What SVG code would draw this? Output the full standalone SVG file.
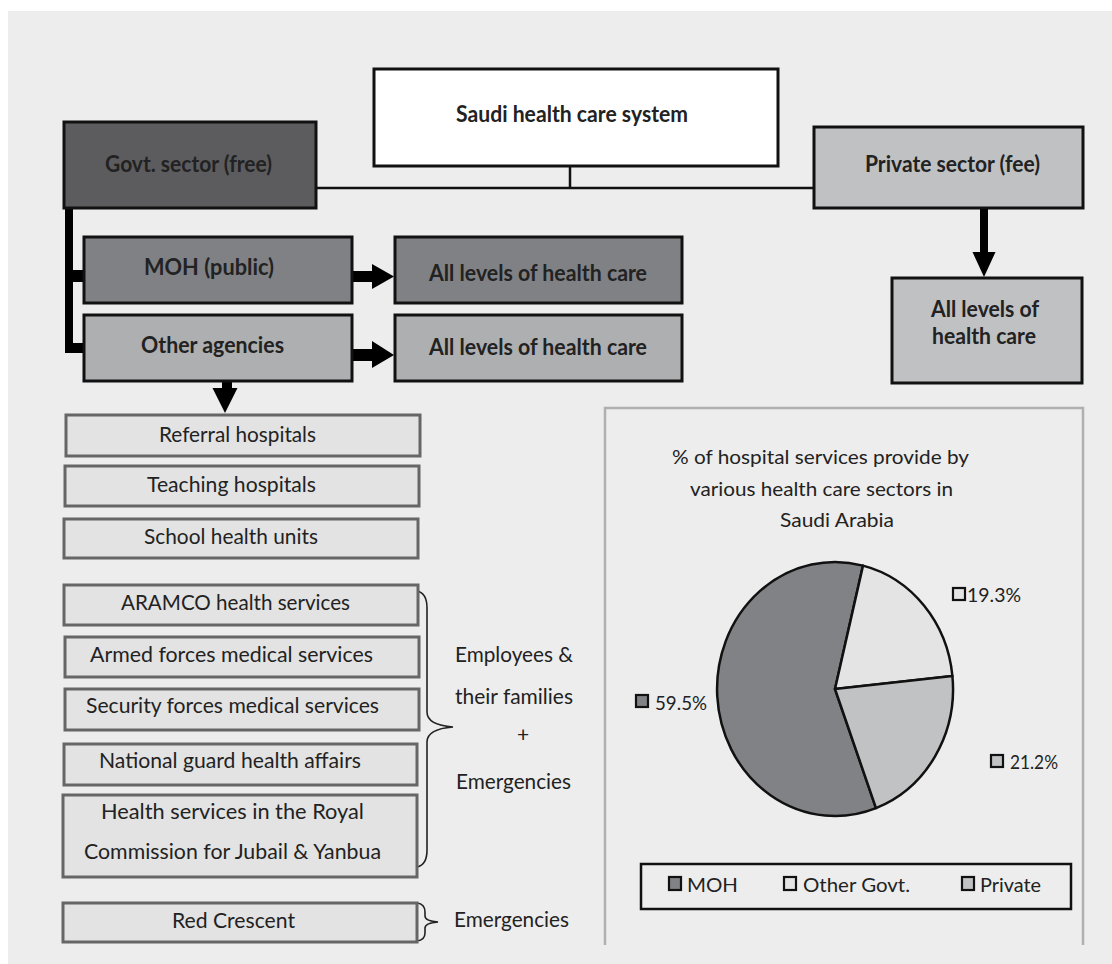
<svg xmlns="http://www.w3.org/2000/svg" width="1112" height="964" viewBox="0 0 1112 964">
  <style>
    .hdr { font-family: Lato, "Open Sans", "Liberation Sans", sans-serif; font-weight: bold; font-size: 22px; fill: #222; }
    .txt { font-family: Lato, "Open Sans", "Liberation Sans", sans-serif; font-size: 21px; fill: #222; }
    .ttl { font-family: Lato, "Open Sans", "Liberation Sans", sans-serif; font-size: 20px; fill: #222; }
    .box { stroke: #111; stroke-width: 3; }
    .item { fill: #e3e3e3; stroke: #666; stroke-width: 3; }
    .line { fill: none; stroke: #111; stroke-width: 2.5; }
    .brace { fill: none; stroke: #222; stroke-width: 1.6; }
    .solid { fill: #000; }
    .slice { stroke: #111; stroke-width: 2.5; stroke-linejoin: round; }
    .key { stroke: #111; stroke-width: 2.2; }
  </style>

  <!-- page background -->
  <rect x="0" y="0" width="1112" height="964" fill="#ffffff"/>
  <rect x="8" y="11" width="1104" height="953" fill="#ededed"/>

  <!-- connectors -->
  <g id="connectors">
    <!-- root to the two sectors -->
    <polyline class="line" points="570,166 570,188"/>
    <line class="line" x1="316" y1="188" x2="814" y2="188"/>
    <!-- government sector trunk and branches -->
    <rect class="solid" x="65" y="207" width="8" height="146"/>
    <rect class="solid" x="65" y="270" width="20" height="12"/>
    <rect class="solid" x="65" y="343" width="20" height="10"/>
    <!-- MOH -> all levels -->
    <rect class="solid" x="352" y="271" width="22" height="11"/>
    <polygon class="solid" points="372,264 394,276.5 372,289"/>
    <!-- other agencies -> all levels -->
    <rect class="solid" x="352" y="349" width="22" height="12"/>
    <polygon class="solid" points="372,341 394,355 372,368"/>
    <!-- private sector -> all levels -->
    <rect class="solid" x="980" y="207" width="8" height="46"/>
    <polygon class="solid" points="972.5,252 995.5,252 984,277"/>
    <!-- other agencies -> list -->
    <rect class="solid" x="222" y="380" width="10" height="9"/>
    <polygon class="solid" points="212.5,388 237.5,388 225,413"/>
    <!-- braces -->
    <path class="brace" d="M417,591 Q427,593 427,608 L427,712 Q427,725 453,727 Q427,729 427,742 L427,850 Q427,865 417,867"/>
    <path class="brace" d="M417,903 Q425,904 425,912 L425,916 Q425,921 438,922 Q425,923 425,928 L425,933 Q425,940 417,941"/>
  </g>

  <!-- top level -->
  <g id="root">
    <rect class="box" x="374" y="69" width="404" height="97" fill="#ffffff"/>
    <text class="hdr" x="456" y="122" textLength="232" lengthAdjust="spacingAndGlyphs">Saudi health care system</text>
  </g>
  <g id="govt">
    <rect class="box" x="64" y="122" width="252" height="86" fill="#5c5c5e"/>
    <text class="hdr" x="105" y="172" textLength="167" lengthAdjust="spacingAndGlyphs">Govt. sector (free)</text>
  </g>
  <g id="private">
    <rect class="box" x="814" y="127" width="269" height="81" fill="#c0c1c3"/>
    <text class="hdr" x="865" y="172" textLength="175" lengthAdjust="spacingAndGlyphs">Private sector (fee)</text>
  </g>
  <g id="moh">
    <rect class="box" x="84" y="237" width="268" height="66" fill="#808184"/>
    <text class="hdr" x="144" y="275" textLength="130" lengthAdjust="spacingAndGlyphs">MOH (public)</text>
  </g>
  <g id="moh-care">
    <rect class="box" x="395" y="237" width="287" height="66" fill="#808184"/>
    <text class="hdr" x="429" y="281" textLength="218" lengthAdjust="spacingAndGlyphs">All levels of health care</text>
  </g>
  <g id="other">
    <rect class="box" x="84" y="315" width="268" height="66" fill="#aeafb1"/>
    <text class="hdr" x="141" y="353" textLength="143" lengthAdjust="spacingAndGlyphs">Other agencies</text>
  </g>
  <g id="other-care">
    <rect class="box" x="395" y="315" width="287" height="66" fill="#aeafb1"/>
    <text class="hdr" x="429" y="355" textLength="218" lengthAdjust="spacingAndGlyphs">All levels of health care</text>
  </g>
  <g id="private-care">
    <rect class="box" x="892" y="278" width="190" height="105" fill="#c0c1c3"/>
    <text class="hdr" x="931" y="317" textLength="108" lengthAdjust="spacingAndGlyphs">All levels of</text>
    <text class="hdr" x="932" y="344" textLength="104" lengthAdjust="spacingAndGlyphs">health care</text>
  </g>

  <!-- agencies list -->
  <g id="referral">
    <rect class="item" x="66" y="415" width="354" height="41"/>
    <text class="txt" x="159" y="442" textLength="157" lengthAdjust="spacingAndGlyphs">Referral hospitals</text>
  </g>
  <g id="teaching">
    <rect class="item" x="65" y="466" width="354" height="40"/>
    <text class="txt" x="147" y="492" textLength="169" lengthAdjust="spacingAndGlyphs">Teaching hospitals</text>
  </g>
  <g id="school">
    <rect class="item" x="64" y="519" width="354" height="39"/>
    <text class="txt" x="144" y="544" textLength="174" lengthAdjust="spacingAndGlyphs">School health units</text>
  </g>
  <g id="aramco">
    <rect class="item" x="64" y="585" width="354" height="40"/>
    <text class="txt" x="121" y="610" textLength="229" lengthAdjust="spacingAndGlyphs">ARAMCO health services</text>
  </g>
  <g id="armed">
    <rect class="item" x="65" y="637" width="354" height="40"/>
    <text class="txt" x="90" y="662" textLength="283" lengthAdjust="spacingAndGlyphs">Armed forces medical services</text>
  </g>
  <g id="security">
    <rect class="item" x="65" y="689" width="354" height="41"/>
    <text class="txt" x="86" y="713" textLength="293" lengthAdjust="spacingAndGlyphs">Security forces medical services</text>
  </g>
  <g id="national">
    <rect class="item" x="64" y="744" width="353" height="41"/>
    <text class="txt" x="99" y="768" textLength="262" lengthAdjust="spacingAndGlyphs">National guard health affairs</text>
  </g>
  <g id="royal">
    <rect class="item" x="63" y="795" width="354" height="82"/>
    <text class="txt" x="101" y="819" textLength="263" lengthAdjust="spacingAndGlyphs">Health services in the Royal</text>
    <text class="txt" x="84" y="859" textLength="297" lengthAdjust="spacingAndGlyphs">Commission for Jubail &amp; Yanbua</text>
  </g>
  <g id="red-crescent">
    <rect class="item" x="63" y="903" width="354" height="39"/>
    <text class="txt" x="172" y="928" textLength="123" lengthAdjust="spacingAndGlyphs">Red Crescent</text>
  </g>

  <!-- brace notes -->
  <g id="employees-note">
    <text class="txt" x="455" y="662" textLength="118" lengthAdjust="spacingAndGlyphs">Employees &amp;</text>
    <text class="txt" x="455" y="704" textLength="118" lengthAdjust="spacingAndGlyphs">their families</text>
    <text class="txt" x="523" y="742" font-size="15" text-anchor="middle">+</text>
    <text class="txt" x="456" y="789" textLength="115" lengthAdjust="spacingAndGlyphs">Emergencies</text>
  </g>
  <g id="emergency-note">
    <text class="txt" x="454" y="927" textLength="115" lengthAdjust="spacingAndGlyphs">Emergencies</text>
  </g>

  <!-- pie chart panel -->
  <g id="chart">
    <polyline points="605,945 605,408 1083,408 1083,945" fill="none" stroke="#b0b0b0" stroke-width="2.5"/>
    <text class="ttl" x="672" y="464" textLength="297" lengthAdjust="spacingAndGlyphs">% of hospital services provide by</text>
    <text class="ttl" x="690" y="496" textLength="263" lengthAdjust="spacingAndGlyphs">various health care sectors in</text>
    <text class="ttl" x="780" y="527" textLength="114" lengthAdjust="spacingAndGlyphs">Saudi Arabia</text>

    <!-- slices: centre (835,689), rx 118, ry 127 -->
    <path class="slice" fill="#818285" d="M835,689 L876,808.1 A118,127 0 1,1 863,565.6 Z"/>
    <path class="slice" fill="#e4e4e4" d="M835,689 L863,565.6 A118,127 0 0,1 952.4,676 Z"/>
    <path class="slice" fill="#c1c2c4" d="M835,689 L952.4,676 A118,127 0 0,1 876,808.1 Z"/>

    <!-- slice labels -->
    <rect class="key" x="953" y="588" width="12" height="12" fill="#e4e4e4"/>
    <text class="ttl" x="967" y="602" textLength="54" lengthAdjust="spacingAndGlyphs">19.3%</text>
    <rect class="key" x="636" y="695" width="12" height="12" fill="#818285"/>
    <text class="ttl" x="655" y="710" textLength="52" lengthAdjust="spacingAndGlyphs">59.5%</text>
    <rect class="key" x="991" y="755" width="12" height="12" fill="#c1c2c4"/>
    <text class="ttl" x="1010" y="769" textLength="48" lengthAdjust="spacingAndGlyphs">21.2%</text>

    <!-- legend -->
    <rect x="641" y="864" width="430" height="45" fill="none" stroke="#111" stroke-width="2.5"/>
    <rect class="key" x="669" y="877" width="12" height="13" fill="#818285"/>
    <text class="ttl" x="687" y="892" textLength="51" lengthAdjust="spacingAndGlyphs">MOH</text>
    <rect class="key" x="784" y="877" width="12" height="13" fill="#e4e4e4"/>
    <text class="ttl" x="803" y="892" textLength="107" lengthAdjust="spacingAndGlyphs">Other Govt.</text>
    <rect class="key" x="962" y="877" width="12" height="13" fill="#c1c2c4"/>
    <text class="ttl" x="980" y="892" textLength="61" lengthAdjust="spacingAndGlyphs">Private</text>
  </g>
</svg>
